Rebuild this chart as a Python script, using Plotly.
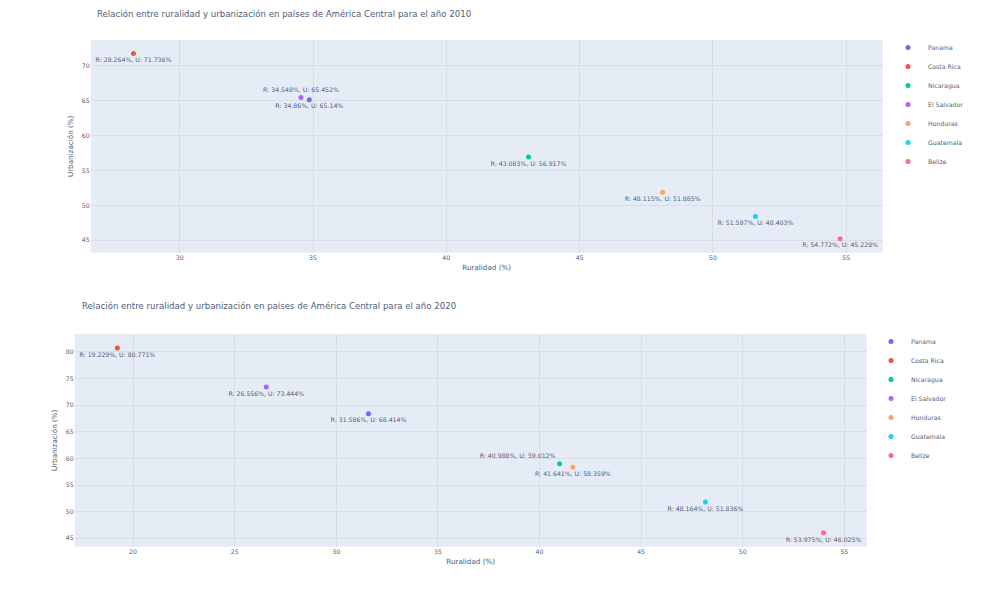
import plotly.graph_objects as go

# Datos: ruralidad y urbanización (%) por país
paises = ["Panama", "Costa Rica", "Nicaragua", "El Salvador", "Honduras", "Guatemala", "Belize"]
colores = ["#636efa", "#EF553B", "#00cc96", "#ab63fa", "#FFA15A", "#19d3f3", "#FF6692"]

rural_2010 = [34.86, 28.264, 43.083, 34.548, 48.115, 51.597, 54.772]
urban_2010 = [65.14, 71.736, 56.917, 65.452, 51.885, 48.403, 45.228]
pos_2010 = ["bottom center", "bottom center", "bottom center", "top center",
            "bottom center", "bottom center", "bottom center"]

rural_2020 = [31.586, 19.229, 40.988, 26.556, 41.641, 48.164, 53.975]
urban_2020 = [68.414, 80.771, 59.012, 73.444, 58.359, 51.836, 46.025]
pos_2020 = ["bottom center", "bottom center", "top left", "bottom center",
            "bottom center", "bottom center", "bottom center"]

# the page body adds 8px around the figure
W, H = 977, 578
txt = "#4f5d78"


def px_x(a, b):
    return [a / W, b / W]


def px_y(top, bottom):
    return [1 - bottom / H, 1 - top / H]


fig = go.Figure()

for i, pais in enumerate(paises):
    fig.add_trace(go.Scatter(
        x=[rural_2010[i]], y=[urban_2010[i]],
        mode="markers+text", name=pais,
        text=[f"R: {rural_2010[i]}%, U: {urban_2010[i]}%"],
        textposition=pos_2010[i],
        textfont=dict(size=6.2, color=txt),
        marker=dict(color=colores[i], size=5),
        xaxis="x", yaxis="y", legend="legend",
    ))

for i, pais in enumerate(paises):
    fig.add_trace(go.Scatter(
        x=[rural_2020[i]], y=[urban_2020[i]],
        mode="markers+text", name=pais,
        text=[f"R: {rural_2020[i]}%, U: {urban_2020[i]}%"],
        textposition=pos_2020[i],
        textfont=dict(size=6.2, color=txt),
        marker=dict(color=colores[i], size=5),
        xaxis="x2", yaxis="y2", legend="legend2",
    ))

tick = dict(size=6.2, color=txt)
tit = dict(size=7.2, color=txt)
grid = "#d9dde7"

fig.update_layout(
    width=W, height=H,
    margin=dict(l=0, r=0, t=0, b=0),
    font=dict(family="DejaVu Sans", color=txt),
    xaxis=dict(domain=px_x(82.7, 874.7), range=[26.66, 56.37], anchor="y", dtick=5,
               gridcolor=grid, tickfont=tick,
               title=dict(text="Ruralidad (%)", font=tit, standoff=5)),
    yaxis=dict(domain=px_y(32, 244.7), range=[43.22, 73.68], anchor="x", dtick=5,
               gridcolor=grid, tickfont=tick,
               title=dict(text="Urbanización (%)", font=tit, standoff=7)),
    xaxis2=dict(domain=px_x(66.7, 858.7), range=[17.13, 56.10], anchor="y2", dtick=5,
                gridcolor=grid, tickfont=tick,
                title=dict(text="Ruralidad (%)", font=tit, standoff=5)),
    yaxis2=dict(domain=px_y(326, 538.7), range=[43.42, 83.38], anchor="x2", dtick=5,
                gridcolor=grid, tickfont=tick,
                title=dict(text="Urbanización (%)", font=tit, standoff=7)),
    legend=dict(x=880 / W, y=1 - 25 / H, xanchor="left", yanchor="top",
                font=dict(size=6.2, color=txt)),
    legend2=dict(x=863 / W, y=1 - 319 / H, xanchor="left", yanchor="top",
                 font=dict(size=6.2, color=txt)),
    annotations=[
        dict(text="Relación entre ruralidad y urbanización en países de América Central para el año 2010",
             x=87.7 / W, y=1, xref="paper", yref="paper", borderpad=0,
             xanchor="left", yanchor="top", showarrow=False,
             font=dict(size=8.6, color=txt)),
        dict(text="Relación entre ruralidad y urbanización en países de América Central para el año 2020",
             x=71.7 / W, y=1 - 297.7 / H, xref="paper", yref="paper",
             xanchor="left", yanchor="middle", showarrow=False,
             font=dict(size=8.6, color=txt)),
    ],
)

fig.write_html("out.html")
